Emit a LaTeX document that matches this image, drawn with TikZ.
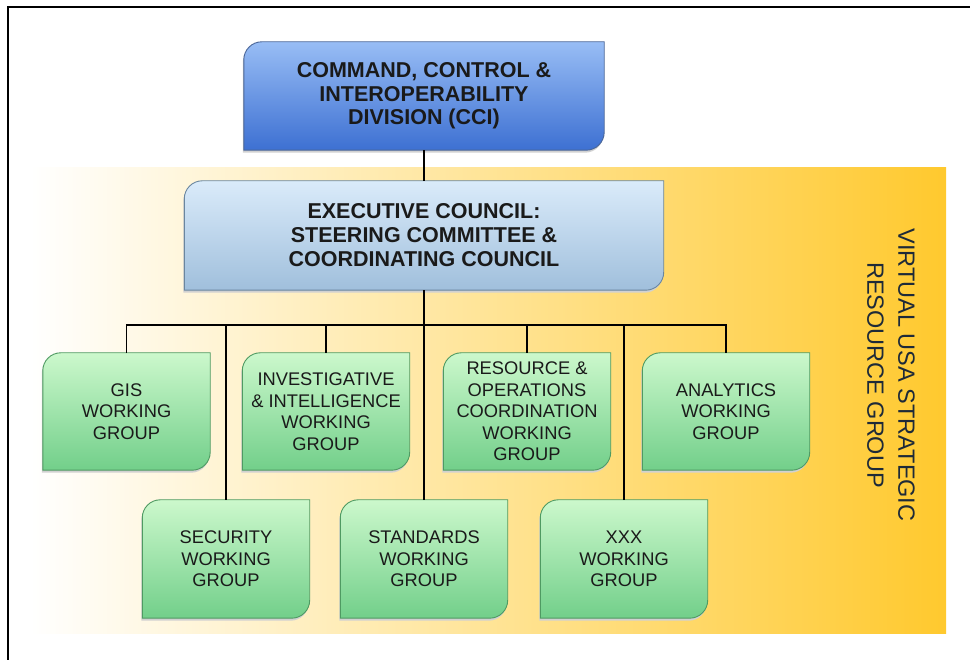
\documentclass[tikz,border=0pt]{standalone}
\usepackage{fontspec}
\setmainfont{Liberation Sans}
\usepackage{tikz}
\usetikzlibrary{positioning}
\usepackage{xcolor}
\pgfdeclarelayer{back}
\pgfdeclarelayer{background}
\pgfsetlayers{back,background,main}
\definecolor{txt}{HTML}{1A1A1A}
\definecolor{vtxt}{HTML}{1E2A38}
\definecolor{ccitop}{HTML}{98BDF5}
\definecolor{ccibot}{HTML}{3D70D2}
\definecolor{cciline}{HTML}{4A6698}
\definecolor{exectop}{HTML}{DAEBFA}
\definecolor{execbot}{HTML}{A0BFDC}
\definecolor{execline}{HTML}{6A869F}
\definecolor{wgtop}{HTML}{CCF8CC}
\definecolor{wgbot}{HTML}{72CF8A}
\definecolor{wgline}{HTML}{4F9A62}
\definecolor{bandmid}{HTML}{FDE8A2}
\definecolor{bandright}{HTML}{FFC92E}
\newcommand\cardr{18pt}
\newcommand\cardpath[1]{(#1.south west) -- ([yshift=-\cardr]#1.north west)
  arc[start angle=180,end angle=90,radius=\cardr] -- (#1.north east)
  -- ([yshift=\cardr]#1.south east) arc[start angle=0,end angle=-90,radius=\cardr] -- cycle}

\begin{document}
\begin{tikzpicture}[x=1pt,y=1pt,
  card/.style={inner sep=0pt, align=center, text=txt},
  ccibox/.style={card, minimum width=360pt, minimum height=108pt,
    font=\bfseries\fontsize{21.5}{23.5}\selectfont},
  execbox/.style={card, minimum width=479pt, minimum height=109pt,
    font=\bfseries\fontsize{21.5}{24}\selectfont},
  wgbox/.style={card, minimum width=167pt, minimum height=117pt,
    font=\fontsize{18.3}{21.5}\selectfont},
  wgfill/.style={draw=wgline, line width=0.9pt, top color=wgtop, bottom color=wgbot},
  cardshadow/.style={fill=black!18, transform canvas={xshift=-1pt,yshift=-2.5pt}},
  link/.style={line width=1.8pt, black}]
  \useasboundingbox (0,0) rectangle (970,660);

  \node[ccibox] (cci) at (424,564) {COMMAND, CONTROL \&\\INTEROPERABILITY\\DIVISION (CCI)};
  \node[execbox] (exec) at (424,424.5) {EXECUTIVE COUNCIL:\\STEERING COMMITTEE \&\\COORDINATING COUNCIL};

  \node[wgbox] (gis) at (126.5,248.5) {GIS\\WORKING\\GROUP};
  \node[wgbox] (inv) at (326,248.5) {INVESTIGATIVE\\\& INTELLIGENCE\\WORKING\\GROUP};
  \node[wgbox] (res) at (527,248.5) {RESOURCE \&\\OPERATIONS\\COORDINATION\\WORKING\\GROUP};
  \node[wgbox] (ana) at (726,248.5) {ANALYTICS\\WORKING\\GROUP};
  \node[wgbox, minimum height=118pt] (sec) at (226,101) {SECURITY\\WORKING\\GROUP};
  \node[wgbox, minimum height=118pt] (std) at (424,101) {STANDARDS\\WORKING\\GROUP};
  \node[wgbox, minimum height=118pt] (xxx) at (624,101) {XXX\\WORKING\\GROUP};

  \node[rotate=-90, align=center, text=vtxt, font=\fontsize{23.5}{31}\selectfont] (vusa) at (891,285)
    {VIRTUAL USA STRATEGIC\\RESOURCE GROUP};

  \coordinate (bus) at (424,335);
  \draw[link] (cci.south) -- (exec.north);
  \draw[link] (exec.south) -- (std.north);
  \draw[link] (gis.north) |- (bus) -| (ana.north);
  \foreach \n in {sec,inv,res,xxx}
    \draw[link] (\n.north) -- (\n.north |- bus);

  \begin{pgfonlayer}{background}
    \fill[cardshadow] \cardpath{cci};
    \draw[draw=cciline, line width=0.9pt, top color=ccitop, bottom color=ccibot] \cardpath{cci};
    \fill[cardshadow] \cardpath{exec};
    \draw[draw=execline, line width=0.9pt, top color=exectop, bottom color=execbot] \cardpath{exec};
    \foreach \n in {gis,inv,res,ana,sec,std,xxx} {
      \fill[cardshadow] \cardpath{\n};
      \draw[wgfill] \cardpath{\n};
    }
  \end{pgfonlayer}

  \begin{pgfonlayer}{back}
    \shade[left color=white, middle color=bandmid, right color=bandright] (30,26) rectangle (946,492);
    \draw[line width=2pt] (8,0) -- (8,653) -- (970,653);
  \end{pgfonlayer}
\end{tikzpicture}
\end{document}
